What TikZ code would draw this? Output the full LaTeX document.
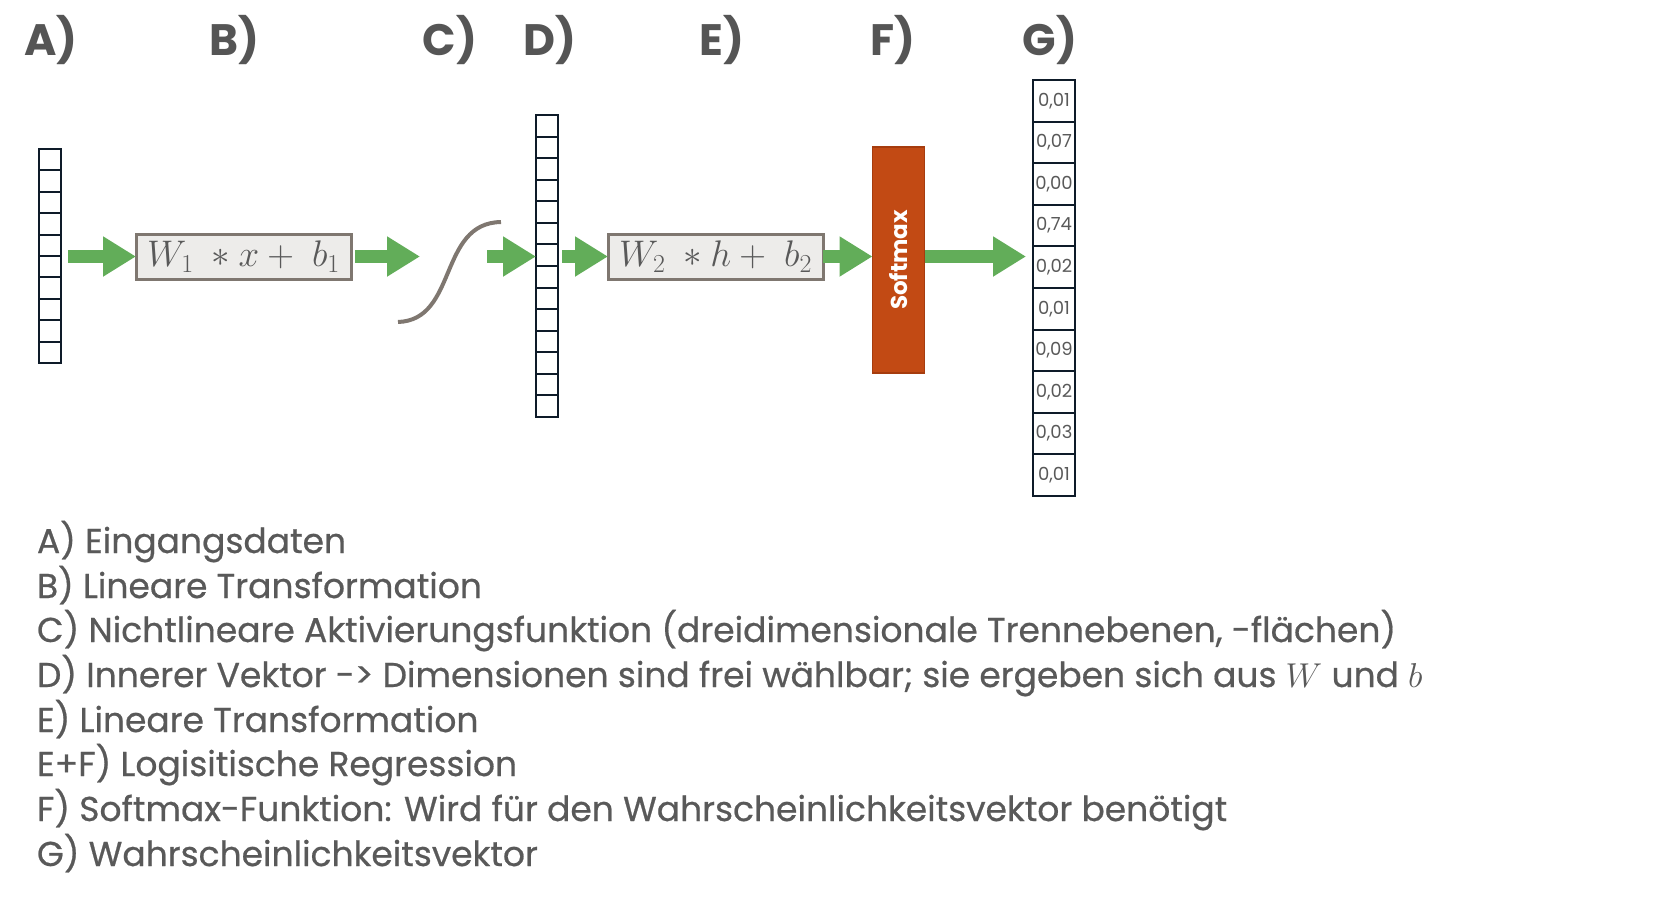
\RequirePackage{fix-cm}
\documentclass[tikz,border=0pt]{standalone}
\usepackage{amsmath}
\usepackage[no-math]{fontspec}
\setmainfont{Poppins}
\newfontfamily\legendfont{Poppins}[FakeBold=0.6]
\usepackage{xcolor}
\usepackage{tikz}
\usetikzlibrary{positioning,arrows.meta,calc}

\definecolor{pfeilgruen}{HTML}{62AD59}
\definecolor{rahmengrau}{HTML}{7F7770}
\definecolor{boxgrau}{HTML}{EDECEA}
\definecolor{softrot}{HTML}{C24A14}
\definecolor{softrand}{HTML}{A63C0E}
\definecolor{zellblau}{HTML}{0E1B29}
\definecolor{textgrau}{HTML}{595959}
\definecolor{labelgrau}{HTML}{555555}

\begin{document}
\begin{tikzpicture}[
    x=1pt, y=-1pt,
    every node/.style={inner sep=0pt, outer sep=0pt},
    vektor/.style={draw=zellblau, line width=2pt, fill=white, minimum width=22pt},
    zelle/.style={draw=zellblau, line width=2pt, fill=white, minimum width=42pt, minimum height=41.6pt,
        text=textgrau, font=\fontsize{18}{18}\selectfont},
    trafo/.style={draw=rahmengrau, fill=boxgrau, line width=3pt, minimum width=215pt, minimum height=45pt,
        text=textgrau, font=\fontsize{37}{37}\selectfont},
    softbox/.style={draw=softrand, line width=1.5pt, fill=softrot, minimum width=52pt, minimum height=226pt,
        text=white, font=\fontsize{23}{23}\selectfont\bfseries},
    pfeil/.style={draw=pfeilgruen, line width=13pt, -{Triangle[length=33pt,width=38pt]}},
    marke/.style={text=labelgrau, font=\fontsize{44}{44}\selectfont\bfseries, anchor=base},
    legende/.style={text=textgrau, font=\fontsize{34.5}{34.5}\legendfont, anchor=base west}
]
\useasboundingbox (0,0) rectangle (1672,902);

% Überschriften
\foreach \l/\x in {A/51,B/234,C/450,D/550,E/722,F/893,G/1050}
    \node[marke] (lab\l) at (\x,55) {\l)};

% Vektoren und Blöcke
\coordinate (achse) at (0,256.5);
\node[vektor, minimum height=214pt] (vecA) at (50,256) {};
\foreach \i in {1,...,9}
    \draw[zellblau, line width=2pt] (vecA.north west) ++(0,\i*21.4) -- ++(22,0);

\node[trafo] (boxB) at (243.5,256.5) {$W_1\ \ast x +\ b_1$};

\coordinate (sigIn) at (420,256.5);
\coordinate (sigOut) at (487,256.5);
\coordinate (sigLo) at (398,322);
\coordinate (sigHi) at (501,222);
\draw[rahmengrau, line width=4pt] (sigLo) .. controls (458,320) and (438,223) .. (sigHi);

\node[vektor, minimum height=302pt] (vecD) at (547,266) {};
\foreach \i in {1,...,13}
    \draw[zellblau, line width=2pt] (vecD.north west) ++(0,\i*21.57) -- ++(22,0);

\node[trafo] (boxE) at (715.5,256.5) {$W_2\ \ast h +\ b_2$};

\node[softbox] (soft) at (898.5,260) {\rotatebox{90}{Softmax}};

\foreach \w [count=\i] in {{0,01},{0,07},{0,00},{0,74},{0,02},{0,01},{0,09},{0,02},{0,03},{0,01}}
    \node[zelle] (g\i) at (1054,59.2+\i*41.6) {\w};

% Pfeile
\draw[pfeil, shorten <=7pt] (vecA.east |- achse) -- (boxB.west |- achse);
\draw[pfeil, shorten <=4pt] (boxB.east |- achse) -- (sigIn);
\draw[pfeil] (sigOut) -- (vecD.west |- achse);
\draw[pfeil, shorten <=4pt] (vecD.east |- achse) -- (boxE.west |- achse);
\draw[pfeil] (boxE.east |- achse) -- (soft.west |- achse);
\draw[pfeil, shorten >=7pt] (soft.east |- achse) -- (g5.west |- achse);

% Legende
\node[legende] (l1) at (37,553) {A) Eingangsdaten};
\node[legende] (l2) at (37,598) {B) Lineare Transformation};
\node[legende] (l3) at (37,642) {C) Nichtlineare Aktivierungsfunktion (dreidimensionale Trennebenen, -flächen)};
\node[legende] (l4) at (37,687) {D) Innerer Vektor -> Dimensionen sind frei wählbar; sie ergeben sich aus $W$ und $b$};
\node[legende] (l5) at (37,732) {E) Lineare Transformation};
\node[legende] (l6) at (37,776) {E+F) Logisitische Regression};
\node[legende] (l7) at (37,821) {F) Softmax-Funktion: Wird für den Wahrscheinlichkeitsvektor benötigt};
\node[legende] (l8) at (37,866) {G) Wahrscheinlichkeitsvektor};

\end{tikzpicture}
\end{document}
